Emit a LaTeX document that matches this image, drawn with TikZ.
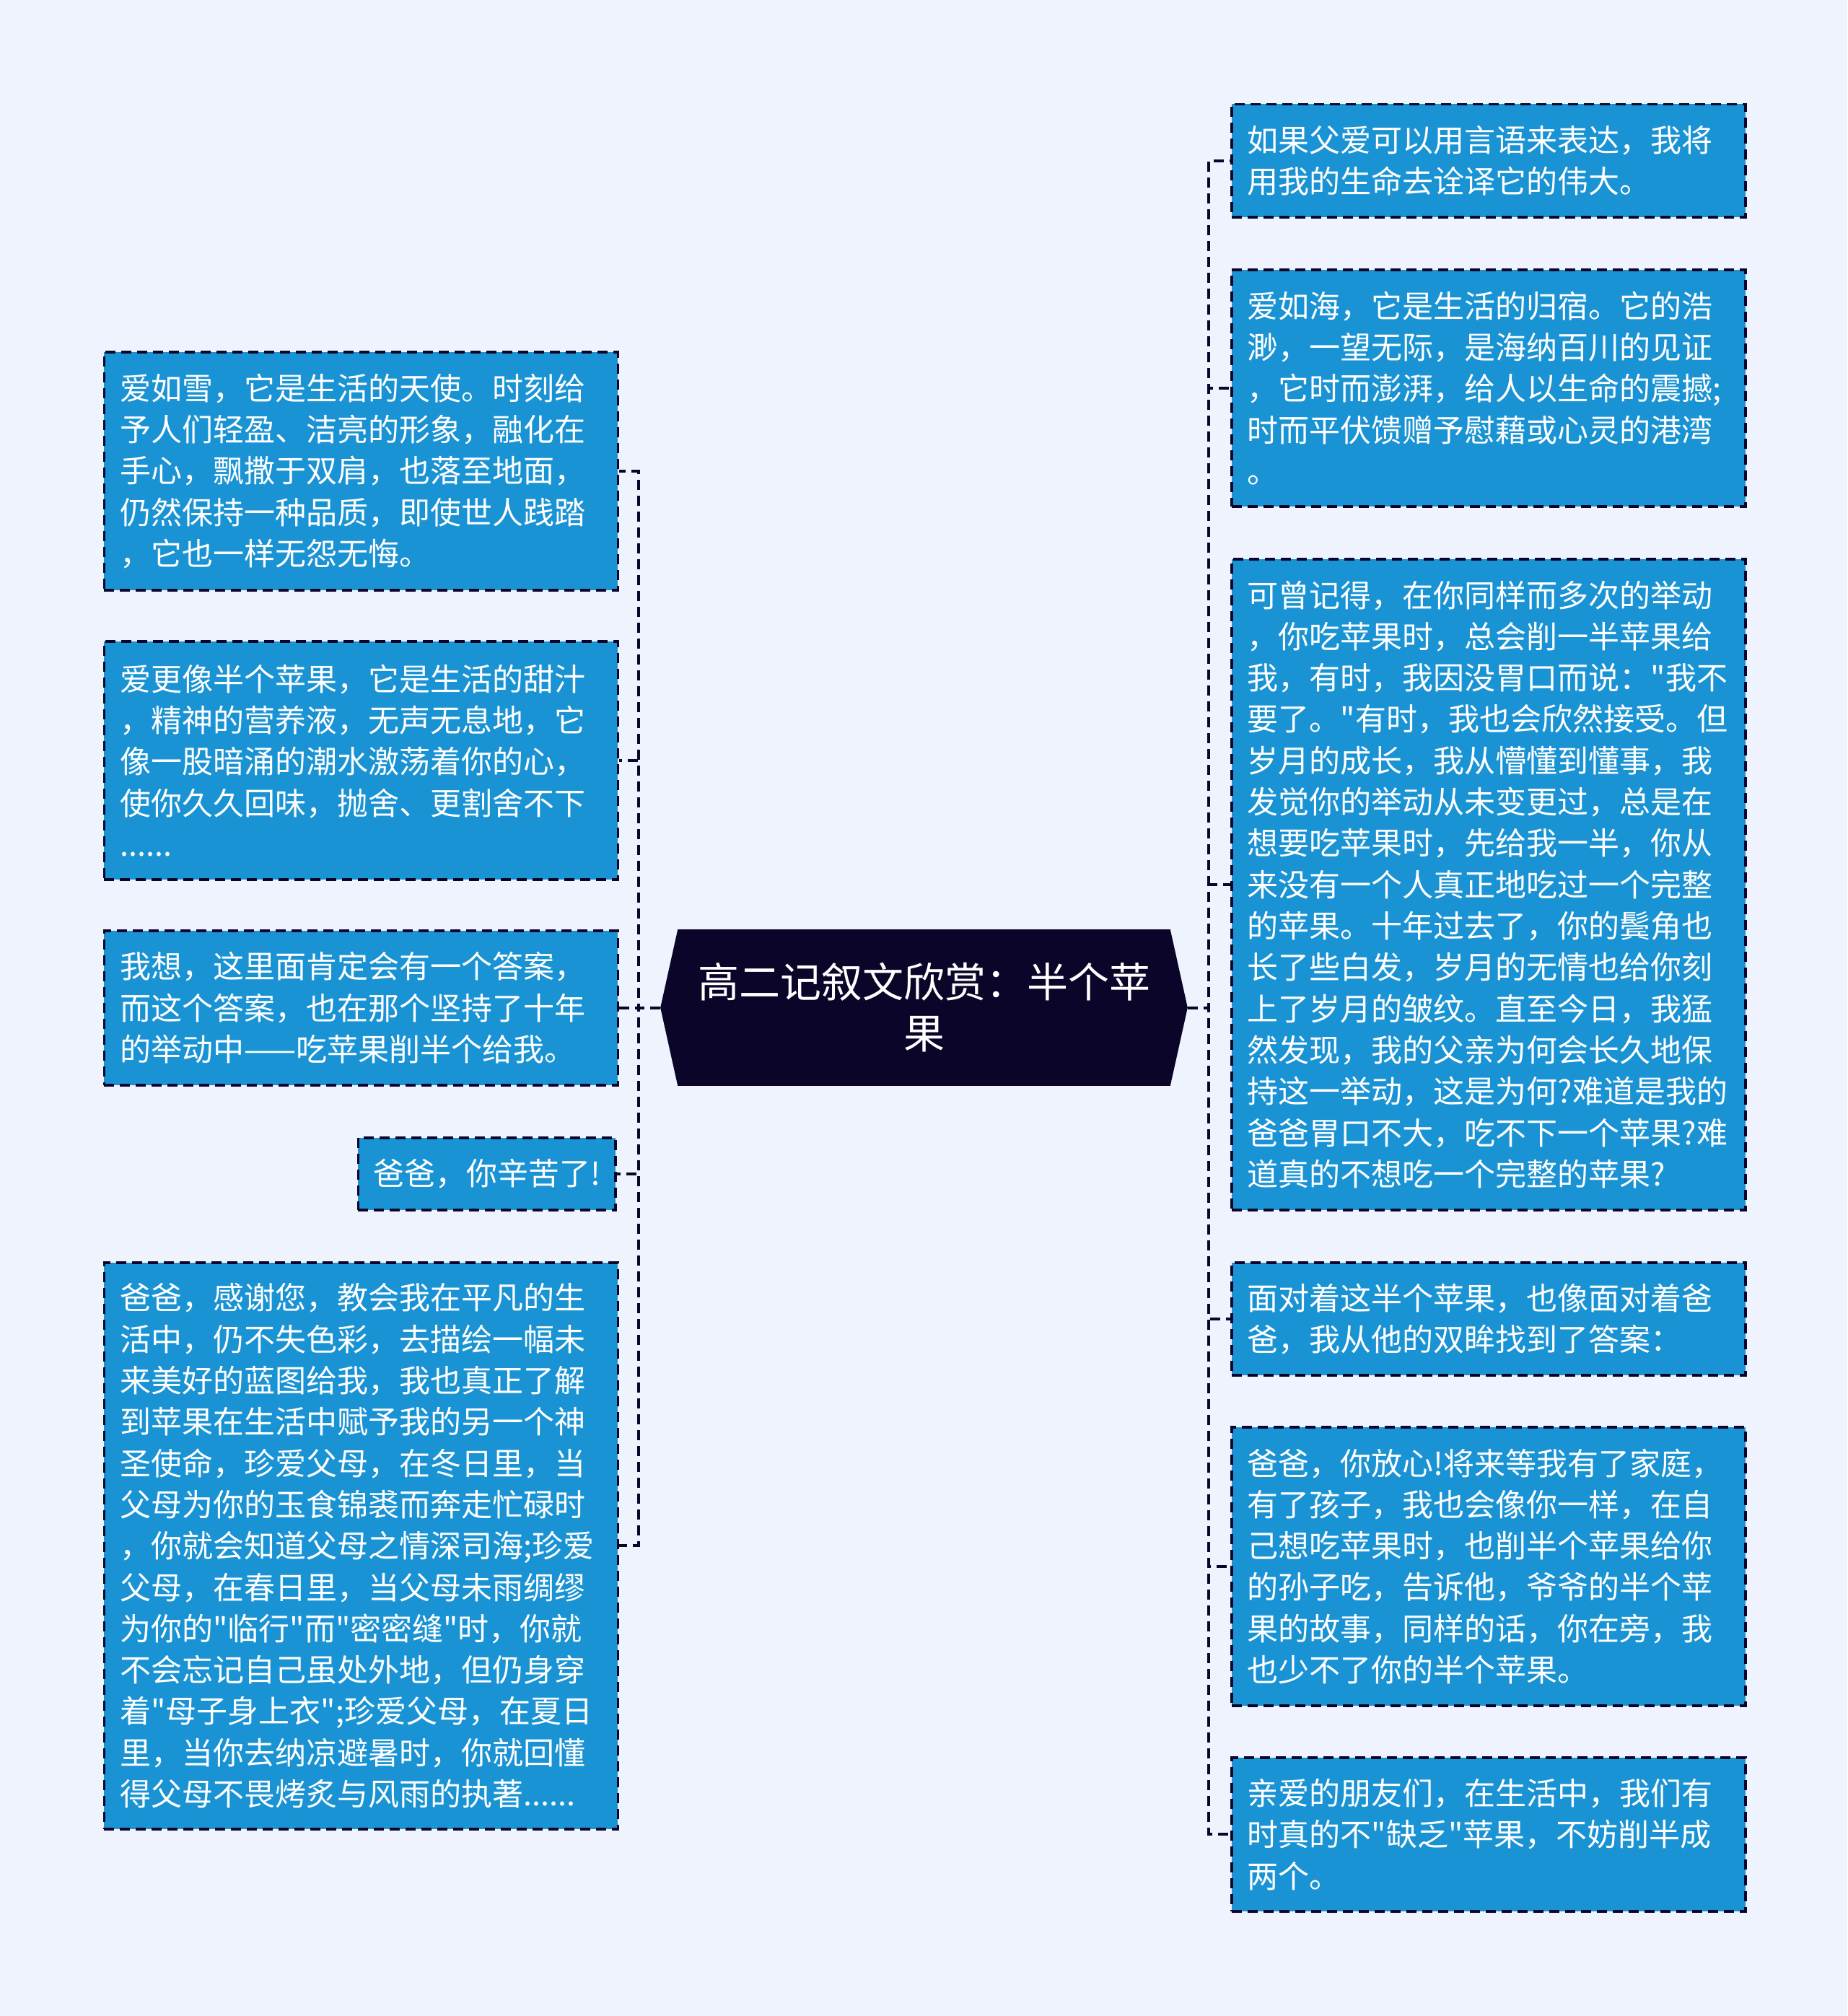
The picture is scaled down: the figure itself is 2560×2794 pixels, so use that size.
\documentclass[tikz,border=0pt]{standalone}
\usepackage{fontspec}
\setmainfont{Noto Sans CJK SC}[Ligatures=TeXOff]
\usetikzlibrary{backgrounds}
\definecolor{bgcol}{HTML}{EEF3FD}
\definecolor{boxcol}{HTML}{1A93D4}
\definecolor{navy}{HTML}{0B0629}
\tikzset{
  leaf/.style={draw=navy, line width=0.9pt, dash pattern=on 3.5pt off 2pt,
    fill=boxcol, text=white, font=\fontsize{10.75pt}{14.33pt}\selectfont,
    align=left, text width=167pt, inner xsep=5.5pt, inner ysep=0pt, anchor=north west},
  shortleaf/.style={draw=navy, line width=0.9pt, dash pattern=on 3.5pt off 2pt,
    fill=boxcol, text=white, font=\fontsize{10.75pt}{14.33pt}\selectfont,
    inner xsep=5.25pt, inner ysep=0pt, anchor=north east},
  rootnode/.style={text=white, font=\fontsize{14.25pt}{17.8pt}\selectfont,
    align=center, minimum width=182.25pt, minimum height=53.75pt, inner sep=0pt},
  conn/.style={draw=navy, line width=1pt, dash pattern=on 3.5pt off 2pt},
}
\begin{document}
\begin{tikzpicture}[x=0.25pt, y=-0.25pt]
% central node
\node[rootnode] (root) at (1280.5,1396.5) {高二记叙文欣赏：半个苹\\果};
\begin{scope}[on background layer]
  \fill[bgcol] (0,0) rectangle (2560,2794);
  \fill[navy] (root.west) -- ([xshift=6pt]root.north west) -- ([xshift=-6pt]root.north east)
    -- (root.east) -- ([xshift=-6pt]root.south east) -- ([xshift=6pt]root.south west) -- cycle;
\end{scope}

% left column
\node[leaf, minimum height=82.5pt] (L1) at (142.5,486) {爱如雪，它是生活的天使。时刻给\\予人们轻盈、洁亮的形象，融化在\\手心，飘撒于双肩，也落至地面，\\仍然保持一种品质，即使世人践踏\\，它也一样无怨无悔。};
\node[leaf, minimum height=82.5pt] (L2) at (142.5,887) {爱更像半个苹果，它是生活的甜汁\\，精神的营养液，无声无息地，它\\像一股暗涌的潮水激荡着你的心，\\使你久久回味，抛舍、更割舍不下\\......};
\node[leaf, minimum height=53.5pt] (L3) at (142.5,1288) {我想，这里面肯定会有一个答案，\\而这个答案，也在那个坚持了十年\\的举动中——吃苹果削半个给我。};
\node[shortleaf, minimum height=25pt] (L4) at (855,1575) {爸爸，你辛苦了!};
\node[leaf, minimum height=196.25pt] (L5) at (142.5,1748) {爸爸，感谢您，教会我在平凡的生\\活中，仍不失色彩，去描绘一幅未\\来美好的蓝图给我，我也真正了解\\到苹果在生活中赋予我的另一个神\\圣使命，珍爱父母，在冬日里，当\\父母为你的玉食锦裘而奔走忙碌时\\，你就会知道父母之情深司海;珍爱\\父母，在春日里，当父母未雨绸缪\\为你的"临行"而"密密缝"时，你就\\不会忘记自己虽处外地，但仍身穿\\着"母子身上衣";珍爱父母，在夏日\\里，当你去纳凉避暑时，你就回懂\\得父母不畏烤炙与风雨的执著......};

% right column
\node[leaf, minimum height=39.1pt] (R1) at (1705,142.5) {如果父爱可以用言语来表达，我将\\用我的生命去诠译它的伟大。};
\node[leaf, minimum height=82pt] (R2) at (1705,372) {爱如海，它是生活的归宿。它的浩\\渺，一望无际，是海纳百川的见证\\，它时而澎湃，给人以生命的震撼;\\时而平伏馈赠予慰藉或心灵的港湾\\。};
\node[leaf, minimum height=225.5pt] (R3) at (1705,773) {可曾记得，在你同样而多次的举动\\，你吃苹果时，总会削一半苹果给\\我，有时，我因没胃口而说："我不\\要了。"有时，我也会欣然接受。但\\岁月的成长，我从懵懂到懂事，我\\发觉你的举动从未变更过，总是在\\想要吃苹果时，先给我一半，你从\\来没有一个人真正地吃过一个完整\\的苹果。十年过去了，你的鬓角也\\长了些白发，岁月的无情也给你刻\\上了岁月的皱纹。直至今日，我猛\\然发现，我的父亲为何会长久地保\\持这一举动，这是为何?难道是我的\\爸爸胃口不大，吃不下一个苹果?难\\道真的不想吃一个完整的苹果?};
\node[leaf, minimum height=39pt] (R4) at (1705,1748) {面对着这半个苹果，也像面对着爸\\爸，我从他的双眸找到了答案：};
\node[leaf, minimum height=96.5pt] (R5) at (1705,1976) {爸爸，你放心!将来等我有了家庭，\\有了孩子，我也会像你一样，在自\\己想吃苹果时，也削半个苹果给你\\的孙子吃，告诉他，爷爷的半个苹\\果的故事，同样的话，你在旁，我\\也少不了你的半个苹果。};
\node[leaf, minimum height=53.25pt] (R6) at (1705,2434) {亲爱的朋友们，在生活中，我们有\\时真的不"缺乏"苹果，不妨削半成\\两个。};

% connectors
\coordinate (tl) at (885,1396.5);
\coordinate (tr) at (1675,1396.5);
\foreach \n in {L1,L2,L3,L4,L5}
  \draw[conn] (root.west) -- (tl) |- (\n.east);
\foreach \n in {R1,R2,R3,R4,R5,R6}
  \draw[conn] (root.east) -- (tr) |- (\n.west);
\end{tikzpicture}
\end{document}
